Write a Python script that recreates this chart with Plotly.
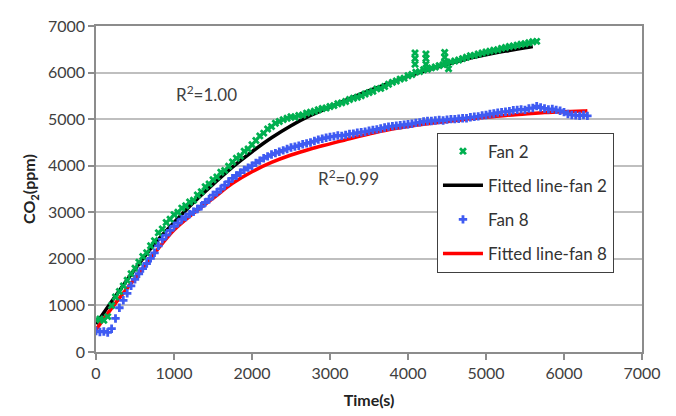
import plotly.graph_objects as go

# ---- Fan 2 measured data (time s, CO2 ppm) ----
fan2_t = [0, 50, 100, 150, 200, 250, 300, 350, 400, 450, 500, 550, 600, 650, 700, 750, 800, 850, 900, 950,
          1000, 1050, 1100, 1150, 1200, 1250, 1300, 1350, 1400, 1450, 1500, 1550, 1600, 1650, 1700, 1750,
          1800, 1850, 1900, 1950, 2000, 2050, 2100, 2150, 2200, 2250, 2300, 2350, 2400, 2450, 2500, 2550,
          2600, 2650, 2700, 2750, 2800, 2850, 2900, 2950, 3000, 3050, 3100, 3150, 3200, 3250, 3300, 3350,
          3400, 3450, 3500, 3550, 3600, 3650, 3700, 3750, 3800, 3850, 3900, 3950, 4000, 4050,
          4090, 4090, 4090, 4100, 4150, 4200, 4230, 4230, 4230, 4250, 4300, 4350, 4400, 4450,
          4470, 4470, 4470, 4500, 4520, 4550, 4600,
          4650, 4700, 4750, 4800, 4850, 4900, 4950, 5000, 5050, 5100, 5150, 5200, 5250, 5300, 5350, 5400,
          5450, 5500, 5550, 5600, 5650]
fan2_v = [690, 710, 680, 760, 1000, 1180, 1300, 1420, 1540, 1680, 1800, 1930, 2050, 2130, 2280, 2390, 2560, 2640, 2780, 2850,
          2950, 3000, 3090, 3140, 3220, 3260, 3370, 3440, 3550, 3610, 3700, 3760, 3860, 3900, 3990, 4080,
          4160, 4210, 4310, 4360, 4450, 4540, 4640, 4700, 4790, 4840, 4910, 4950, 4990, 5020, 5050, 5040,
          5080, 5090, 5130, 5150, 5170, 5200, 5230, 5240, 5270, 5290, 5330, 5350, 5380, 5420, 5450, 5470,
          5500, 5540, 5570, 5600, 5650, 5660, 5700, 5750, 5790, 5820, 5860, 5880, 5930, 5960,
          6180, 6300, 6420, 6010, 6020, 6060, 6180, 6300, 6400, 6070, 6100, 6120, 6150, 6170,
          6220, 6330, 6430, 6200, 6080, 6230, 6250,
          6270, 6300, 6330, 6360, 6370, 6400, 6420, 6440, 6460, 6480, 6490, 6520, 6540, 6560, 6570, 6590,
          6610, 6620, 6640, 6660, 6670]

# ---- Fitted line fan 2 ----
fit2_t = [0, 250, 500, 750, 1000, 1250, 1500, 1750, 2000, 2250, 2500, 2750, 3000, 3250, 3500, 3750,
          4000, 4250, 4500, 4750, 5000, 5250, 5500, 5600]
fit2_v = [600, 1200, 1780, 2320, 2780, 3210, 3600, 3970, 4300, 4600, 4860, 5080, 5260, 5440, 5610, 5770,
          5920, 6060, 6180, 6290, 6380, 6460, 6530, 6560]

# ---- Fan 8 measured data ----
fan8_t = [0, 50, 100, 150, 200, 250, 300, 350, 400, 450, 500, 550, 600, 650, 700, 750, 800, 850, 900, 950,
          1000, 1050, 1100, 1150, 1200, 1250, 1300, 1350, 1400, 1450, 1500, 1550, 1600, 1650, 1700, 1750,
          1800, 1850, 1900, 1950, 2000, 2050, 2100, 2150, 2200, 2250, 2300, 2350, 2400, 2450, 2500, 2550,
          2600, 2650, 2700, 2750, 2800, 2850, 2900, 2950, 3000, 3050, 3100, 3150, 3200, 3250, 3300, 3350,
          3400, 3450, 3500, 3550, 3600, 3650, 3700, 3750, 3800, 3850, 3900, 3950, 4000, 4050, 4100, 4150,
          4200, 4250, 4300, 4350, 4400, 4450, 4500, 4550, 4600, 4650, 4700, 4750, 4800, 4850, 4900, 4950,
          5000, 5050, 5100, 5150, 5200, 5250, 5300, 5350, 5400, 5450, 5500, 5550, 5600, 5650, 5700, 5750,
          5800, 5850, 5900, 5950, 6000, 6050, 6100, 6150, 6200, 6250, 6300]
fan8_v = [450, 430, 440, 420, 500, 720, 950, 1110, 1260, 1420, 1560, 1680, 1790, 1900, 2010, 2130, 2280, 2420, 2510, 2610,
          2700, 2770, 2850, 2900, 2960, 3010, 3070, 3130, 3210, 3280, 3370, 3430, 3500, 3580, 3660, 3730,
          3790, 3850, 3910, 3960, 4000, 4060, 4110, 4160, 4200, 4240, 4270, 4300, 4330, 4360, 4390, 4410,
          4430, 4460, 4480, 4500, 4530, 4560, 4580, 4600, 4620, 4630, 4650, 4640, 4660, 4680, 4690, 4710,
          4720, 4730, 4750, 4770, 4780, 4800, 4820, 4840, 4850, 4860, 4870, 4880, 4890, 4900, 4920, 4930,
          4950, 4960, 4960, 4970, 4980, 4970, 4990, 5000, 5000, 5010, 5020, 5020, 5040, 5050, 5060, 5080,
          5090, 5110, 5120, 5140, 5150, 5160, 5170, 5190, 5200, 5210, 5200, 5230, 5240, 5280, 5250, 5230,
          5210, 5220, 5200, 5180, 5150, 5110, 5090, 5080, 5070, 5090, 5070]

# ---- Fitted line fan 8 ----
fit8_t = [0, 250, 500, 750, 1000, 1250, 1500, 1750, 2000, 2250, 2500, 2750, 3000, 3250, 3500, 3750,
          4000, 4250, 4500, 4750, 5000, 5250, 5500, 5750, 6000, 6250, 6300]
fit8_v = [480, 1050, 1580, 2120, 2620, 2980, 3300, 3620, 3870, 4070, 4230, 4360, 4470, 4580, 4680, 4770,
          4840, 4900, 4950, 5000, 5040, 5080, 5110, 5140, 5160, 5175, 5180]

x_ticks = [0, 1000, 2000, 3000, 4000, 5000, 6000, 7000]
y_ticks = [0, 1000, 2000, 3000, 4000, 5000, 6000, 7000]

FONT = "Lato"
fig = go.Figure()

fig.add_trace(go.Scatter(x=fit2_t, y=fit2_v, mode="lines", name="Fitted line-fan 2",
                         line=dict(color="#000000", width=3.5, shape="spline"),
                         legendgroup="b", legendrank=2))
fig.add_trace(go.Scatter(x=fit8_t, y=fit8_v, mode="lines", name="Fitted line-fan 8",
                         line=dict(color="#FF0000", width=3.5, shape="spline"),
                         legendgroup="d", legendrank=4))
fig.add_trace(go.Scatter(x=fan2_t, y=fan2_v, mode="markers", name="Fan 2",
                         marker=dict(symbol="x", size=7, color="#00B050", line=dict(width=0)),
                         legendgroup="a", legendrank=1))
fig.add_trace(go.Scatter(x=fan8_t, y=fan8_v, mode="markers", name="Fan 8",
                         marker=dict(symbol="cross", size=7, color="#3F5BF2", line=dict(width=0)),
                         legendgroup="c", legendrank=3))

fig.add_annotation(x=1415, y=5560, text="R<sup>2</sup>=1.00", showarrow=False,
                   font=dict(family=FONT, size=17, color="#404040"))
fig.add_annotation(x=3235, y=3750, text="R<sup>2</sup>=0.99", showarrow=False,
                   font=dict(family=FONT, size=17, color="#404040"))

# page body adds an 8px offset, so margins compensate for it
fig.update_layout(
    width=676, height=416,
    margin=dict(l=88, r=42, t=8, b=72),
    paper_bgcolor="white", plot_bgcolor="white",
    font=dict(family=FONT, size=16, color="#404040"),
    showlegend=True,
    legend=dict(x=0.6245, y=0.673, xanchor="left", yanchor="top",
                bgcolor="white", bordercolor="#404040", borderwidth=1,
                font=dict(family=FONT, size=17, color="#333333"),
                itemwidth=40, tracegroupgap=9, traceorder="grouped"),
    xaxis=dict(range=[0, 7000], tickvals=x_ticks, ticktext=[str(v) for v in x_ticks],
               showgrid=False, zeroline=False, ticklabeloverflow="allow",
               showline=True, linecolor="#8C8C8C", linewidth=1.5, mirror=True,
               ticks="outside", ticklen=6, tickcolor="#8C8C8C", tickwidth=1.5,
               title=dict(text="<b>Time(s)</b>", font=dict(family=FONT, size=16, color="#222222"), standoff=14)),
    yaxis=dict(range=[0, 7000], tickvals=y_ticks, ticktext=[str(v) for v in y_ticks],
               showgrid=True, gridcolor="#BFBFBF", gridwidth=1.5, zeroline=False, ticklabeloverflow="allow",
               showline=True, linecolor="#8C8C8C", linewidth=1.5, mirror=True,
               ticks="outside", ticklen=6, tickcolor="#8C8C8C", tickwidth=1.5,
               title=dict(text="<b>CO<sub>2</sub>(ppm)</b>", font=dict(family=FONT, size=16, color="#222222"), standoff=8)),
)

fig.write_html("out.html")
